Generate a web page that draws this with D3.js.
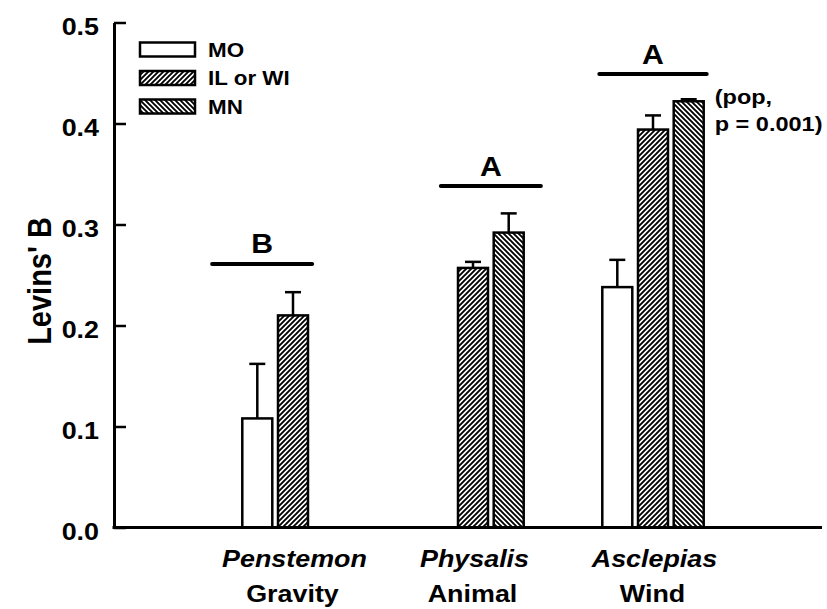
<!DOCTYPE html>
<html>
<head>
<meta charset="utf-8">
<script src="https://cdn.jsdelivr.net/npm/d3@7"></script>
<style>
  html, body { margin: 0; padding: 0; background: #fff; }
  svg text { font-family: "Liberation Sans", Arial, sans-serif; font-weight: bold; fill: #000; }
</style>
</head>
<body>
<svg id="chart" width="827" height="609"></svg>
<script>
// Levins' B by plant genus and population
const genera    = ["Penstemon", "Physalis", "Asclepias"];
const dispersal = ["Gravity", "Animal", "Wind"];
const series    = ["MO", "IL or WI", "MN"];

const meanMO = [0.108, null, 0.238];
const meanIL = [0.210, 0.257, 0.394];
const meanMN = [null, 0.292, 0.422];
const seMO   = [0.054, null, 0.027];
const seIL   = [0.023, 0.006, 0.014];
const seMN   = [null, 0.019, 0.002];

const sigLetters = ["B", "A", "A"];
const sigLevels  = [0.261, 0.338, 0.449];
const yTicks     = [0, 0.1, 0.2, 0.3, 0.4, 0.5];
const noteLines  = ["(pop,", "p = 0.001)"];

// layout
const SX = 1.12;               // text is a bit wide in the original
const axisX = 114, axisRight = 822;
const yTop = 22.5, yBottom = 527.5;
const lineShift = { Penstemon: -13 };

const svg = d3.select("#chart");

const y = d3.scaleLinear().domain([0, 0.5]).range([yBottom, yTop]);
const x = d3.scaleBand().domain(genera).range([203, 743]).padding(0);
const xs = d3.scaleBand().domain(series).range([-50.7, 50.7]).paddingInner(0.16);

// hatch patterns
const defs = svg.append("defs");
function hatch(id, dir) {
  const p = defs.append("pattern")
    .attr("id", id).attr("patternUnits", "userSpaceOnUse")
    .attr("width", 5).attr("height", 5);
  p.append("rect").attr("width", 5).attr("height", 5).attr("fill", "#fff");
  const d = dir > 0
    ? "M-1,1 l2,-2 M0,5 l5,-5 M4,6 l2,-2"
    : "M-1,4 l2,2 M0,0 l5,5 M4,-1 l2,2";
  p.append("path").attr("d", d).attr("stroke", "#000").attr("stroke-width", 1.9);
}
hatch("hatchIL", 1);
hatch("hatchMN", -1);
const fills = { "MO": "#fff", "IL or WI": "url(#hatchIL)", "MN": "url(#hatchMN)" };

const rows = [];
genera.forEach((g, i) => {
  [[meanMO, seMO], [meanIL, seIL], [meanMN, seMN]].forEach(([m, e], k) => {
    if (m[i] != null) rows.push({ g, s: series[k], v: m[i], e: e[i] });
  });
});

function stretchText(sel, tx, ty) {
  return sel.attr("transform", `translate(${tx},${ty}) scale(${SX},1)`);
}

// error bars (upward only)
const eb = svg.append("g").attr("stroke", "#000").attr("stroke-width", 2.5);
rows.forEach(d => {
  const cx = x(d.g) + x.bandwidth() / 2 + xs(d.s) + xs.bandwidth() / 2;
  eb.append("line").attr("x1", cx).attr("x2", cx).attr("y1", y(d.v)).attr("y2", y(d.v + d.e));
  eb.append("line").attr("x1", cx - 8).attr("x2", cx + 8).attr("y1", y(d.v + d.e)).attr("y2", y(d.v + d.e));
});

// bars
svg.append("g").selectAll("rect")
  .data(rows)
  .join("rect")
  .attr("x", d => x(d.g) + x.bandwidth() / 2 + xs(d.s))
  .attr("width", xs.bandwidth())
  .attr("y", d => y(d.v))
  .attr("height", d => y(0) - y(d.v))
  .attr("fill", d => fills[d.s])
  .attr("stroke", "#000")
  .attr("stroke-width", 2.5);

// significance lines and letters
genera.forEach((g, i) => {
  const present = rows.filter(d => d.g === g).map(d => x(g) + x.bandwidth() / 2 + xs(d.s));
  const lo = d3.min(present), hi = d3.max(present) + xs.bandwidth();
  const c = (lo + hi) / 2 + (lineShift[g] || 0);
  const half = Math.max(50, (hi - lo) / 2 + 3);
  const ly = y(sigLevels[i]);
  svg.append("line")
    .attr("x1", c - half).attr("x2", c + half)
    .attr("y1", ly).attr("y2", ly)
    .attr("stroke", "#000").attr("stroke-width", 4).attr("stroke-linecap", "round");
  stretchText(svg.append("text"), c, ly - 10.5)
    .attr("text-anchor", "middle").attr("font-size", 27)
    .text(sigLetters[i]);
});

// annotation beside the Asclepias bars
const asc = x("Asclepias") + x.bandwidth() / 2 + xs("MN") + xs.bandwidth();
noteLines.forEach((t, i) => {
  stretchText(svg.append("text"), asc + 11, 104 + i * 27)
    .attr("font-size", 21).text(t);
});

// y axis
const yAxis = svg.append("g")
  .attr("transform", `translate(${axisX},0)`)
  .call(d3.axisLeft(y).tickValues(yTicks).tickFormat(d3.format(".1f"))
    .tickSizeInner(-12).tickSizeOuter(0).tickPadding(15));
yAxis.attr("font-size", null).attr("font-family", null);
yAxis.select(".domain").attr("stroke-width", 3);
yAxis.selectAll(".tick line").attr("stroke-width", 2.5);
yAxis.selectAll(".tick text")
  .style("font-size", "24px")
  .attr("dy", "0.5em")
  .attr("transform", `scale(${SX},1)`)
  .attr("x", -15 / SX);

// x axis line
svg.append("line")
  .attr("x1", axisX - 1.5).attr("x2", axisRight)
  .attr("y1", y(0)).attr("y2", y(0))
  .attr("stroke", "#000").attr("stroke-width", 3);

// x labels
genera.forEach((g, i) => {
  const cx = x(g) + x.bandwidth() / 2 + 1.5;
  stretchText(svg.append("text"), cx, 567)
    .attr("text-anchor", "middle").attr("font-size", 24).attr("font-style", "italic")
    .text(g);
  stretchText(svg.append("text"), cx - 2, 602)
    .attr("text-anchor", "middle").attr("font-size", 24)
    .text(dispersal[i]);
});

// y title
svg.append("text")
  .attr("transform", `translate(51,${(yTop + yBottom) / 2 + 6}) rotate(-90) scale(1,${SX})`)
  .attr("text-anchor", "middle").attr("font-size", 29)
  .text("Levins' B");

// legend
const lg = svg.append("g");
series.forEach((s, i) => {
  const ly = 49.5 + i * 28.5;
  lg.append("rect")
    .attr("x", 140).attr("y", ly - 7).attr("width", 55).attr("height", 14)
    .attr("fill", fills[s]).attr("stroke", "#000").attr("stroke-width", 2.5);
  stretchText(lg.append("text"), 208, ly + 7)
    .attr("font-size", 20).text(s);
});
</script>
</body>
</html>
